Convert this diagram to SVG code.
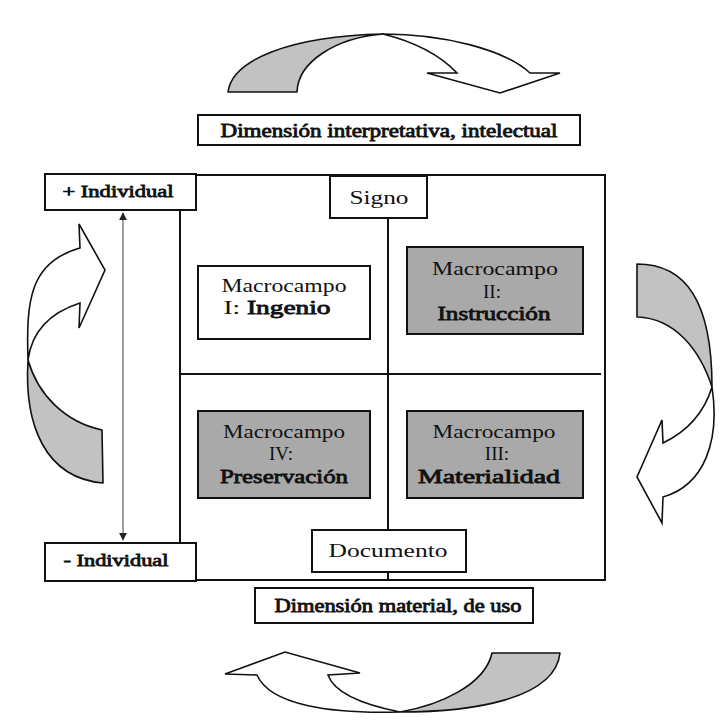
<svg xmlns="http://www.w3.org/2000/svg" width="727" height="728" viewBox="0 0 727 728">
<style>
  .bg { fill: #ffffff; }
  .box { fill: #ffffff; stroke: #111; stroke-width: 2; }
  .gbox { fill: #a9a9a9; stroke: #111; stroke-width: 2; }
  .frame { fill: none; stroke: #111; stroke-width: 2; }
  .div { stroke: #111; stroke-width: 2; fill: none; }
  .axis { stroke: #a0a0a0; stroke-width: 2; fill: none; }
  .arrG { fill: #c2c2c2; stroke: #111; stroke-width: 1.6; stroke-linejoin: round; }
  .arrW { fill: #ffffff; stroke: #111; stroke-width: 1.6; stroke-linejoin: miter; }
  text { font-family: "Liberation Serif", "Times New Roman", serif; font-weight: normal; fill: #111; }
  .lbl { font-size: 18px; text-anchor: middle; stroke: #111; stroke-width: 0.8; }
  .ind { font-size: 17px; text-anchor: middle; stroke: #111; stroke-width: 0.8; }
  .ax { font-size: 19px; text-anchor: middle; }
  .mc { font-size: 19px; text-anchor: middle; }
  .b { stroke: #111; stroke-width: 0.8; }
</style>
<defs>
  <marker id="tri" viewBox="0 0 10 10" refX="9" refY="5" markerWidth="4" markerHeight="4" orient="auto-start-reverse" markerUnits="strokeWidth">
    <path d="M0,0 L10,5 L0,10 Z" fill="#222"/>
  </marker>
</defs>
<rect class="bg" x="0" y="0" width="727" height="728"/>

<g id="frame">
  <rect class="frame" x="180" y="175" width="425" height="405"/>
</g>

<g id="connectors">
  <line class="div" x1="180" y1="374" x2="601" y2="374"/>
  <line class="div" x1="388" y1="218" x2="388" y2="580"/>
  <line class="axis" x1="123" y1="213" x2="123" y2="540" marker-start="url(#tri)" marker-end="url(#tri)"/>
  <g id="cycle-top">
    <path class="arrG" d="M228,92 C232,60 290,36 383,34 C335,38 298,62 297,92 Z"/>
    <path class="arrW" d="M383,34 C445,34 505,50 530,73 L560,73 L500,93 L427,73 L457,73 C440,55 415,42 383,34 Z"/>
  </g>
  <g id="cycle-left">
    <path class="arrW" d="M28,360 C26,300 30,262 80,248 L79,224 L105,270 L79,328 L80,303 C52,312 32,330 28,360 Z"/>
    <path class="arrG" d="M28,360 C24,425 45,478 103,483 L102,430 C65,422 38,395 28,360 Z"/>
  </g>
  <g id="cycle-right">
    <path class="arrG" d="M637,264 C685,264 712,300 712,387 C700,350 675,318 637,317 Z"/>
    <path class="arrW" d="M712,387 C720,440 705,485 663,497 L662,523 L637,477 L662,420 L663,443 C690,430 705,410 712,387 Z"/>
  </g>
  <g id="cycle-bottom">
    <path class="arrG" d="M560,653 C555,700 470,712 400,712 C440,705 485,685 492,653 Z"/>
    <path class="arrW" d="M400,712 C330,714 270,705 257,675 L225,674 L285,652 L360,673 L328,675 C335,695 370,706 400,712 Z"/>
  </g>
</g>

<g id="node-dim-intelectual">
  <rect class="box" x="198" y="115" width="382" height="30"/>
  <text class="lbl" x="389" y="137" textLength="337" lengthAdjust="spacingAndGlyphs">Dimensión interpretativa, intelectual</text>
</g>

<g id="node-dim-material">
  <rect class="box" x="255" y="588" width="278" height="35"/>
  <text class="lbl" x="398" y="612" textLength="247" lengthAdjust="spacingAndGlyphs">Dimensión material, de uso</text>
</g>

<g id="node-mas-individual">
  <rect class="box" x="45" y="174" width="151" height="36"/>
  <text class="ind" x="118" y="197" textLength="111" lengthAdjust="spacingAndGlyphs">+ Individual</text>
</g>

<g id="node-menos-individual">
  <rect class="box" x="45" y="543" width="151" height="38"/>
  <text class="ind" x="116" y="566" textLength="105" lengthAdjust="spacingAndGlyphs">- Individual</text>
</g>

<g id="node-signo">
  <rect class="box" x="330" y="176" width="97" height="42"/>
  <text class="ax" x="379" y="204" textLength="59" lengthAdjust="spacingAndGlyphs">Signo</text>
</g>

<g id="node-documento">
  <rect class="box" x="312" y="530" width="154" height="42"/>
  <text class="ax" x="388" y="557" textLength="119" lengthAdjust="spacingAndGlyphs">Documento</text>
</g>

<g id="node-macrocampo-1">
  <rect class="box" x="198" y="266" width="172" height="73"/>
  <text class="mc" x="284" y="292" textLength="125" lengthAdjust="spacingAndGlyphs">Macrocampo</text>
  <text class="mc" x="277" y="314" textLength="107" lengthAdjust="spacingAndGlyphs">I: <tspan class="b">Ingenio</tspan></text>
</g>

<g id="node-macrocampo-2">
  <rect class="gbox" x="407" y="247" width="176" height="87"/>
  <text class="mc" x="495" y="275" textLength="126" lengthAdjust="spacingAndGlyphs">Macrocampo</text>
  <text class="mc" x="492" y="298">II:</text>
  <text class="mc b" x="494" y="320" textLength="113" lengthAdjust="spacingAndGlyphs">Instrucción</text>
</g>

<g id="node-macrocampo-4">
  <rect class="gbox" x="198" y="411" width="172" height="87"/>
  <text class="mc" x="284" y="438" textLength="122" lengthAdjust="spacingAndGlyphs">Macrocampo</text>
  <text class="mc" x="281" y="460">IV:</text>
  <text class="mc b" x="284" y="483" textLength="128" lengthAdjust="spacingAndGlyphs">Preservación</text>
</g>

<g id="node-macrocampo-3">
  <rect class="gbox" x="407" y="411" width="176" height="87"/>
  <text class="mc" x="494" y="438" textLength="123" lengthAdjust="spacingAndGlyphs">Macrocampo</text>
  <text class="mc" x="497" y="460">III:</text>
  <text class="mc b" x="489" y="483" textLength="142" lengthAdjust="spacingAndGlyphs">Materialidad</text>
</g>
</svg>
